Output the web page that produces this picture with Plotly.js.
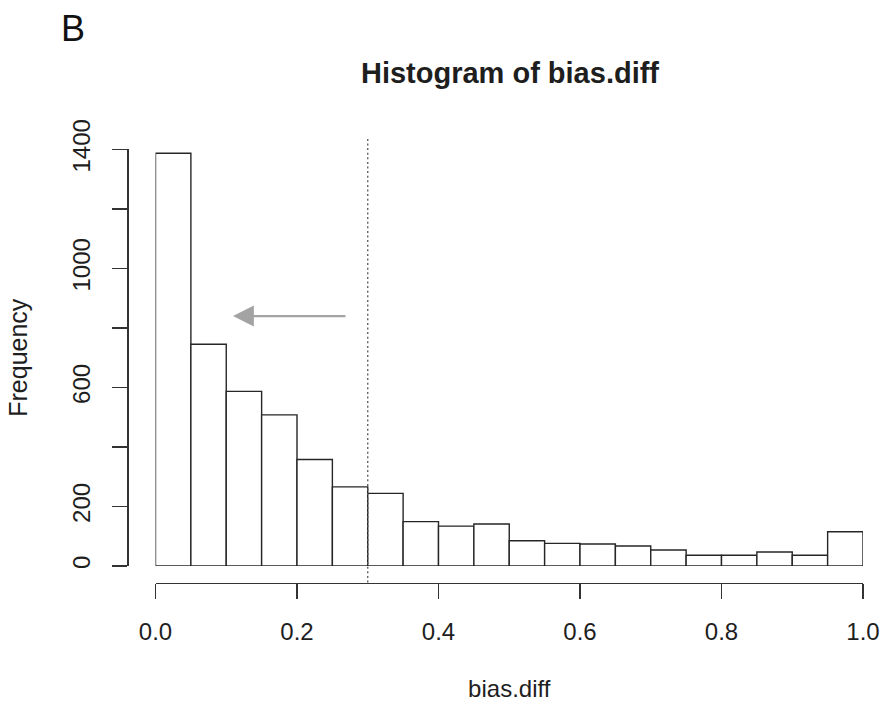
<!DOCTYPE html>
<html>
<head>
<meta charset="utf-8">
<script src="https://cdn.plot.ly/plotly-3.0.1.min.js"></script>
<style>
  html, body { margin: 0; padding: 0; background: #ffffff; }
  #chart { width: 883px; height: 704px; }
</style>
</head>
<body>
<div id="chart"></div>
<script>
// Histogram of bias.diff: 20 bins of width 0.05 on [0, 1]
const binStarts = [0.00, 0.05, 0.10, 0.15, 0.20, 0.25, 0.30, 0.35, 0.40, 0.45,
                   0.50, 0.55, 0.60, 0.65, 0.70, 0.75, 0.80, 0.85, 0.90, 0.95];
const binWidth = 0.05;
const frequency = [1387, 745, 587, 508, 358, 266, 244, 149, 134, 141,
                   85, 76, 74, 67, 54, 36, 36, 47, 36, 115];

const xTickVals = [0, 0.2, 0.4, 0.6, 0.8, 1.0];
const xTickText = ['0.0', '0.2', '0.4', '0.6', '0.8', '1.0'];
const yTickVals = [0, 200, 400, 600, 800, 1000, 1200, 1400];
const yTickText = ['0', '200', '', '600', '', '1000', '', '1400'];

// threshold marked by the dotted vertical line
const threshold = 0.3;
// arrow from tail to head, in data units
const arrowTail = {x: 0.2706, y: 840};
const arrowHead = {x: 0.1095, y: 840};

const FONT = 'Liberation Sans, Arial, Helvetica, sans-serif';
const INK = '#1e1e1e';

const W = 883, H = 704;
const M = {l: 100, r: 20, t: 120, b: 100};
const pw = W - M.l - M.r, ph = H - M.t - M.b;
const px = v => (v - M.l) / pw;          // pixel x -> paper x
const py = v => (H - M.b - v) / ph;      // pixel y -> paper y

const trace = {
  type: 'bar',
  x: binStarts,
  y: frequency,
  width: binWidth,
  offset: 0,
  marker: {color: '#ffffff', line: {color: '#262626', width: 1.4}},
  cliponaxis: false,
  hoverinfo: 'x+y',
  showlegend: false
};

const layout = {
  width: W,
  height: H,
  margin: M,
  paper_bgcolor: '#ffffff',
  plot_bgcolor: 'rgba(0,0,0,0)',
  font: {family: FONT, color: INK, size: 24},
  bargap: 0,
  title: {
    text: 'Histogram of bias.diff',
    font: {family: FONT, size: 29, weight: 'bold', color: INK},
    xref: 'container', yref: 'container',
    x: 510 / W, y: 1 - 73 / H,
    xanchor: 'center', yanchor: 'middle'
  },
  xaxis: {
    range: [0, 1],
    domain: [px(155.5), 1],
    anchor: 'free',
    position: py(582.5),
    showgrid: false,
    zeroline: false,
    showline: true,
    linecolor: '#333333',
    linewidth: 1.4,
    ticks: 'outside',
    ticklen: 15,
    tickwidth: 1.4,
    tickcolor: '#333333',
    tickmode: 'array',
    tickvals: xTickVals,
    ticktext: xTickText,
    ticklabelstandoff: 12,
    tickfont: {size: 24, color: INK},
    title: {text: 'bias.diff', font: {size: 24, color: INK}, standoff: 36}
  },
  yaxis: {
    range: [0, 1400],
    domain: [py(566), py(149.4)],
    anchor: 'free',
    position: px(127.2),
    showgrid: false,
    zeroline: false,
    showline: true,
    linecolor: '#333333',
    linewidth: 1.4,
    ticks: 'outside',
    ticklen: 15,
    tickwidth: 1.4,
    tickcolor: '#333333',
    tickmode: 'array',
    tickvals: yTickVals,
    ticktext: yTickText,
    tickangle: -90,
    ticklabelstandoff: 13,
    tickfont: {size: 24, color: INK},
    title: {text: 'Frequency', font: {size: 25, color: INK}, standoff: 31}
  },
  shapes: [{
    type: 'line',
    xref: 'x', yref: 'paper',
    x0: threshold, x1: threshold,
    y0: py(582.5), y1: py(136.8),
    line: {color: '#555555', width: 1.3, dash: '2px,2.6px'}
  }],
  annotations: [
    {
      x: arrowHead.x, y: arrowHead.y, xref: 'x', yref: 'y',
      ax: arrowTail.x, ay: arrowTail.y, axref: 'x', ayref: 'y',
      text: '', showarrow: true,
      arrowhead: 2, arrowsize: 1.9, arrowwidth: 2.2,
      arrowcolor: '#a3a3a3'
    },
    {
      text: 'B', showarrow: false,
      xref: 'paper', yref: 'paper',
      x: px(73), y: py(29),
      xanchor: 'center', yanchor: 'middle',
      font: {family: FONT, size: 36, color: '#111111'}
    }
  ]
};

Plotly.newPlot('chart', [trace], layout, {displayModeBar: false, staticPlot: true});
</script>
</body>
</html>
